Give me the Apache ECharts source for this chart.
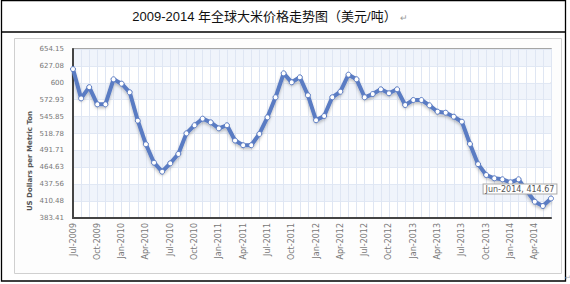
<!DOCTYPE html>
<html><head><meta charset="utf-8">
<script src="https://cdn.jsdelivr.net/npm/echarts/dist/echarts.min.js"></script>
<style>html,body{margin:0;padding:0;background:#fff}#c{width:570px;height:284px}</style>
</head><body><div id="c"></div>
<script>
const titleText = '2009-2014 年全球大米价格走势图（美元/吨）';
const yAxisTitle = 'US Dollars per Metric Ton';
const months = [
 'Jul-2009','Aug-2009','Sep-2009','Oct-2009','Nov-2009','Dec-2009',
 'Jan-2010','Feb-2010','Mar-2010','Apr-2010','May-2010','Jun-2010',
 'Jul-2010','Aug-2010','Sep-2010','Oct-2010','Nov-2010','Dec-2010',
 'Jan-2011','Feb-2011','Mar-2011','Apr-2011','May-2011','Jun-2011',
 'Jul-2011','Aug-2011','Sep-2011','Oct-2011','Nov-2011','Dec-2011',
 'Jan-2012','Feb-2012','Mar-2012','Apr-2012','May-2012','Jun-2012',
 'Jul-2012','Aug-2012','Sep-2012','Oct-2012','Nov-2012','Dec-2012',
 'Jan-2013','Feb-2013','Mar-2013','Apr-2013','May-2013','Jun-2013',
 'Jul-2013','Aug-2013','Sep-2013','Oct-2013','Nov-2013','Dec-2013',
 'Jan-2014','Feb-2014','Mar-2014','Apr-2014','May-2014','Jun-2014'
];
const prices = [
 622, 575, 593, 565.5, 565.5, 605.6,
 598.6, 584.8, 539.3, 501.5, 472, 457.6,
 471, 486, 519, 532, 542.5, 536.7,
 527, 532, 507.5, 500, 500, 518,
 544.7, 576.8, 615.2, 600.8, 608.8, 580,
 540, 546.8, 576.8, 585.7, 613, 605.6,
 576.8, 582, 589.6, 583.2, 589.6, 564.4,
 572.4, 572.4, 563.9, 553.7, 552.1, 545.7,
 537.7, 502, 469.7, 452.3, 447, 445.4,
 440.6, 445.4, 427, 409.5, 402.6, 414.67
];
const yTickLabels = ['383.41','410.48','437.56','464.63','491.71','518.78','545.85','572.93','600','627.08','654.15'];

const yMin = parseFloat(yTickLabels[0]);
const yMax = parseFloat(yTickLabels[yTickLabels.length - 1]);
const yStep = (yMax - yMin) / (yTickLabels.length - 1);
const lineColor = '#5a7bc3';
const lastIdx = prices.length - 1;

const seriesData = prices.map((v, i) => i === lastIdx ? {
  value: v,
  label: {
    show: true, position: 'top', distance: 2, offset: [-31, 0],
    formatter: p => p.name + ', ' + p.value,
    fontFamily: 'DejaVu Sans', fontSize: 8, color: '#555', lineHeight: 8,
    backgroundColor: '#fff', borderColor: '#aaa', borderWidth: 1, padding: [1, 2, 0, 2]
  }
} : v);

const chart = echarts.init(document.getElementById('c'), null, {renderer: 'svg'});
chart.setOption({
  animation: false,
  graphic: [
    {type: 'rect', shape: {x: 1.5, y: 0.5, width: 564, height: 280.5}, style: {fill: 'none', stroke: '#000', lineWidth: 1.3}, z: -10},
    {type: 'line', shape: {x1: 1.5, y1: 32, x2: 565.5, y2: 32}, style: {stroke: '#000', lineWidth: 1.3}, z: -10},
    {type: 'rect', shape: {x: 14.5, y: 38.5, width: 547, height: 235}, style: {fill: '#fdfdfd', stroke: '#d0d0d0', lineWidth: 1}, z: -20},
    {type: 'text', x: 270, y: 16, style: {
      text: titleText + '{m|↵}', align: 'center', verticalAlign: 'middle',
      fontFamily: 'Liberation Sans, Noto Sans CJK SC', fontSize: 13, fill: '#111',
      rich: {m: {fontSize: 9, fill: '#999', padding: [4, 0, 0, 3]}}
    }},
    {type: 'text', x: 30, y: 161, rotation: Math.PI / 2, style: {
      text: yAxisTitle, align: 'center', verticalAlign: 'middle',
      fontFamily: 'DejaVu Sans', fontSize: 7, fontWeight: 'bold', fill: '#555'
    }},
    {type: 'text', x: 565, y: 277, style: {text: '↵', fontSize: 7, fill: '#aaa', verticalAlign: 'middle'}}
  ],
  grid: {left: 73, top: 49, right: 19, bottom: 66, show: true, borderColor: '#888', borderWidth: 1.5, backgroundColor: 'transparent'},
  xAxis: {
    type: 'category', data: months, boundaryGap: false,
    axisLine: {lineStyle: {color: '#444', width: 2}},
    axisTick: {show: false},
    axisLabel: {interval: 2, rotate: 90, fontFamily: 'DejaVu Sans', fontSize: 8, color: '#777', margin: 5},
    splitLine: {show: true, interval: 0, lineStyle: {color: '#dfe6f3', width: 1}}
  },
  yAxis: {
    type: 'value', min: yMin, max: yMax, interval: yStep,
    axisLine: {show: true, lineStyle: {color: '#444', width: 2}},
    axisTick: {show: false},
    axisLabel: {
      fontFamily: 'DejaVu Sans', fontSize: 7, color: '#777', margin: 9,
      formatter: v => yTickLabels[Math.round((v - yMin) / yStep)]
    },
    splitLine: {show: true, lineStyle: {color: '#e1e8f4', width: 1}},
    splitArea: {show: true, areaStyle: {color: ['#ffffff', '#f0f4fb']}}
  },
  series: [{
    type: 'line', data: seriesData,
    symbol: 'circle', symbolSize: 5, showAllSymbol: true,
    lineStyle: {color: lineColor, width: 4, shadowColor: 'rgba(0,0,0,0.25)', shadowBlur: 3, shadowOffsetY: 2},
    itemStyle: {color: '#fff', borderColor: lineColor, borderWidth: 1}
  }]
});
</script></body></html>
